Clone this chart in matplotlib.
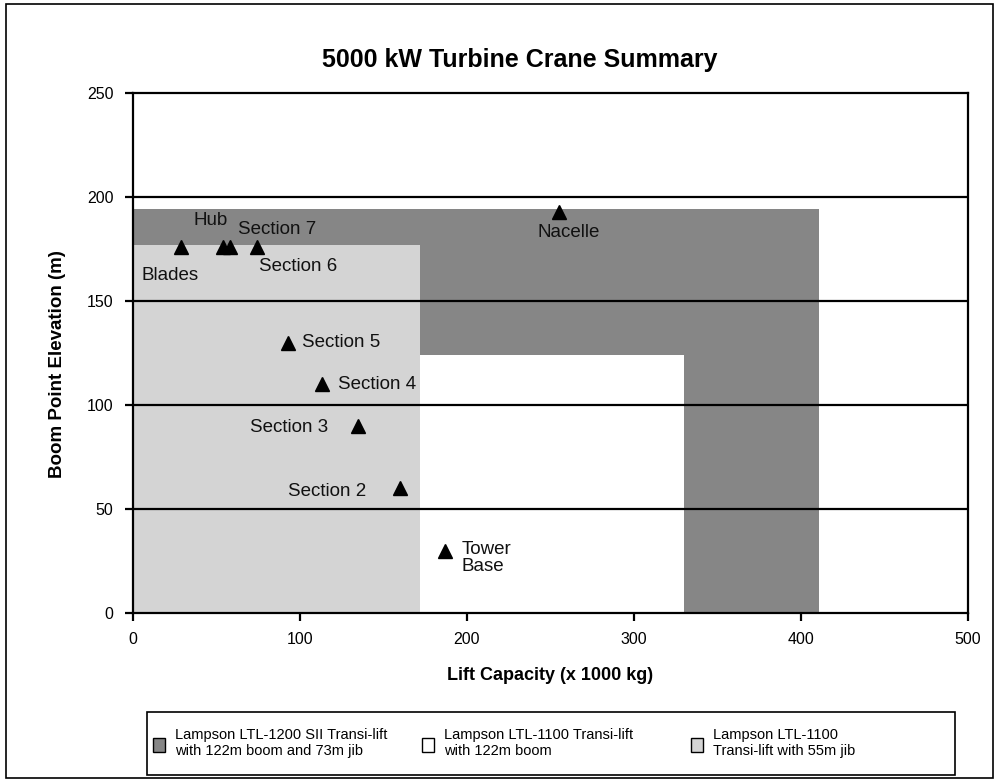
import matplotlib.pyplot as plt
from matplotlib.patches import Rectangle

plt.rcParams['font.family'] = ['Liberation Sans', 'DejaVu Sans']

# crane envelopes: lift capacity (x 1000 kg) vs boom point elevation (m)
ltl1200_x = [0, 411]
ltl1200_y = [194, 194]
ltl1100_boom_x = [0, 330]
ltl1100_boom_y = [124, 124]
ltl1100_jib_x = [0, 172]
ltl1100_jib_y = [177, 177]

# component lifts
parts = ['Blades', 'Hub', 'Section 7', 'Section 6', 'Nacelle', 'Section 5',
         'Section 4', 'Section 3', 'Section 2', 'Tower\nBase']
weights = [29, 54, 58, 74, 255, 93, 113, 135, 160, 187]
heights = [176, 176, 176, 176, 193, 130, 110, 90, 60, 30]
label_off = [(-11, -29, 'center'), (-13, 26, 'center'), (8, 17, 'left'),
             (2, -20, 'left'), (10, -21, 'center'), (14, 0, 'left'),
             (16, 0, 'left'), (-30, -2, 'right'), (-34, -3, 'right'),
             (16, 0, 'left')]

W, H = 997, 782
fig = plt.figure(figsize=(W / 100, H / 100), dpi=100)
ax = fig.add_axes([133 / W, 1 - 613 / H, 835 / W, 520 / H])

dark = '#868686'
light = '#d4d4d4'
ax.fill_between(ltl1200_x, ltl1200_y, 0, color=dark, lw=0, zorder=1)
ax.fill_between(ltl1100_boom_x, ltl1100_boom_y, 0, color='white', lw=0, zorder=2)
ax.fill_between(ltl1100_jib_x, ltl1100_jib_y, 0, color=light, lw=0, zorder=3)

for yv in [50, 100, 150, 200]:
    ax.axhline(yv, color='black', lw=1.6, zorder=4)

ax.plot(weights, heights, '^', color='black', markersize=10, zorder=5)
for name, xv, yv, (dx, dy, ha) in zip(parts, weights, heights, label_off):
    if name.startswith('Tower'):
        ax.annotate(name, (xv, yv), xytext=(dx, 10), textcoords='offset pixels',
                    ha=ha, va='top', fontsize=13.5, color='#111111', zorder=6,
                    linespacing=1.05)
    else:
        ax.annotate(name, (xv, yv), xytext=(dx, dy), textcoords='offset pixels',
                    ha=ha, va='center', fontsize=13.5, color='#111111', zorder=6)

ax.set_xlim(0, 500)
ax.set_ylim(0, 250)
ax.set_xticks(range(0, 501, 100))
ax.set_yticks(range(0, 251, 50))
ax.tick_params(labelsize=11.5, width=1.6, length=6, direction='out', pad=8)
for s in ax.spines.values():
    s.set_linewidth(1.6)
    s.set_zorder(7)

fig.text(520 / W, 1 - 60 / H, '5000 kW Turbine Crane Summary', fontsize=18,
         fontweight='bold', ha='center', va='center')
ax.set_xlabel('Lift Capacity (x 1000 kg)', fontsize=13, fontweight='bold')
ax.xaxis.set_label_coords(0.5, -(676 - 613) / 520)
ax.set_ylabel('Boom Point Elevation (m)', fontsize=13.5, fontweight='bold')
ax.yaxis.set_label_coords(-(133 - 58) / 835, (613 - 364) / 520)
ax.xaxis.label.set_va('center')
ax.yaxis.label.set_va('center')

# legend box along the bottom
fig.patches.append(Rectangle((147 / W, 1 - 775 / H), 808 / W, 63 / H,
                             transform=fig.transFigure, fill=False, ec='black', lw=1.2))
legend_fill = [dark, 'white', light]
legend_text = ['Lampson LTL-1200 SII Transi-lift\nwith 122m boom and 73m jib',
               'Lampson LTL-1100 Transi-lift\nwith 122m boom',
               'Lampson LTL-1100\nTransi-lift with 55m jib']
for i, (fc, txt) in enumerate(zip(legend_fill, legend_text)):
    x0 = 153 + 269 * i
    fig.patches.append(Rectangle((x0 / W, 1 - 752 / H), 12 / W, 14 / H,
                                 transform=fig.transFigure, fc=fc, ec='black', lw=1))
    fig.text((x0 + 22) / W, 1 - 743 / H, txt, fontsize=10.5,
             ha='left', va='center', linespacing=1.2)

# outer chart border
fig.patches.append(Rectangle((0.006, 0.005), 0.99, 0.99, transform=fig.transFigure,
                             fill=False, ec='black', lw=1.2))

fig.savefig('out.png', dpi=100)
